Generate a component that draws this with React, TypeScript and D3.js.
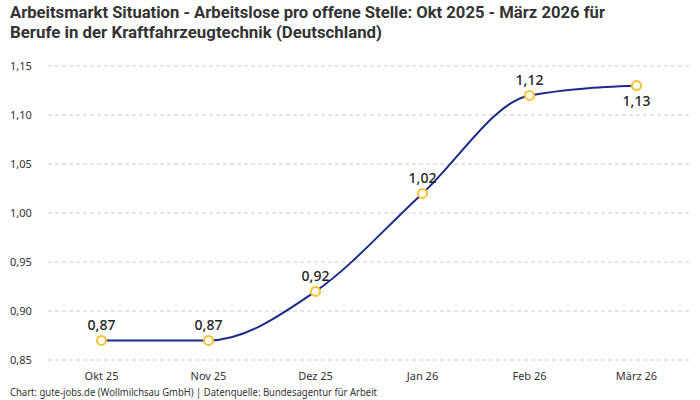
import React from "react";
import * as d3 from "d3";

const categories = ["Okt 25", "Nov 25", "Dez 25", "Jan 26", "Feb 26", "März 26"];
const values = [0.87, 0.87, 0.92, 1.02, 1.12, 1.13];
const yTicks = [0.85, 0.9, 0.95, 1.0, 1.05, 1.1, 1.15];
const titleLines = [
  "Arbeitsmarkt Situation - Arbeitslose pro offene Stelle: Okt 2025 - März 2026 für",
  "Berufe in der Kraftfahrzeugtechnik (Deutschland)",
];
const footer = "Chart: gute-jobs.de (Wollmilchsau GmbH) | Datenquelle: Bundesagentur für Arbeit";

const W = 700;
const H = 400;
const left = 48;
const right = 690;
const top = 66;
const bottom = 360;

const fmt = (v: number) => v.toFixed(2).replace(".", ",");

export default function App() {
  const x = d3.scalePoint<string>().domain(categories).range([left, right]).padding(0.5);
  const y = d3.scaleLinear().domain([0.85, 1.15]).range([bottom, top]);
  const pts: [number, number][] = values.map((v, i) => [x(categories[i])!, y(v)]);
  const line = d3.line().curve(d3.curveMonotoneX)(pts) || "";
  const font = "'Noto Sans', 'DejaVu Sans', sans-serif";

  return (
    <svg
      width={W}
      height={H}
      style={{ position: "absolute", left: 0, top: 0, background: "#fff" }}
      fontFamily={font}
    >
      <rect width={W} height={H} fill="#fff" />
      {titleLines.map((t, i) => (
        <text
          key={i}
          x={10}
          y={18 + i * 20}
          fontSize={16}
          fontWeight={700}
          fill="#333"
          fontFamily="Roboto, sans-serif"
          textLength={i === 0 ? 595 : 372}
          lengthAdjust="spacingAndGlyphs"
        >
          {t}
        </text>
      ))}
      {yTicks.map((t) => (
        <g key={t}>
          <line
            x1={left}
            x2={right}
            y1={y(t)}
            y2={y(t)}
            stroke="#ccc"
            strokeDasharray="4,3"
            strokeWidth={1}
          />
          <text x={10} y={y(t) + 4} fontSize={11} fill="#333">
            {fmt(t)}
          </text>
        </g>
      ))}
      {categories.map((c) => (
        <text key={c} x={x(c)} y={380} fontSize={11} fill="#333" textAnchor="middle">
          {c}
        </text>
      ))}
      <path d={line} fill="none" stroke="#1b2a8c" strokeWidth={2} />
      {pts.map(([px, py], i) => (
        <g key={i}>
          <circle cx={px} cy={py} r={4.5} fill="#fff" stroke="#fbc02d" strokeWidth={2} />
          <text
            x={px}
            y={i === pts.length - 1 ? py + 20 : py - 10}
            fontSize={14}
            fontWeight={500}
            fill="#222"
            textAnchor="middle"
          >
            {fmt(values[i])}
          </text>
        </g>
      ))}
      <text
        x={10}
        y={396}
        fontSize={10}
        fill="#333"
        textLength={367}
        lengthAdjust="spacingAndGlyphs"
      >
        {footer}
      </text>
    </svg>
  );
}
